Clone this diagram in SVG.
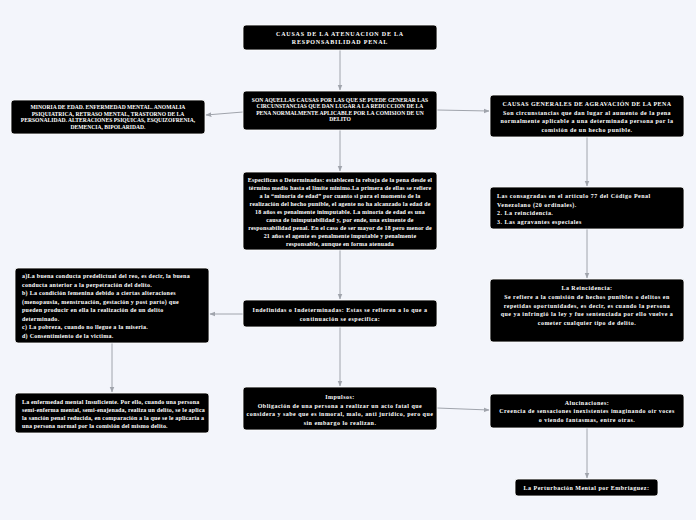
<svg xmlns="http://www.w3.org/2000/svg" width="696" height="520" viewBox="0 0 696 520">
<style>
.b{fill:#000;stroke:#fff;stroke-width:0.8}
text{font-family:"Liberation Serif","Times New Roman",serif;font-weight:bold;fill:#fff;font-size:6px;letter-spacing:0.48px}
.c{text-anchor:middle}
.u{font-size:5.6px;letter-spacing:0}
.t{font-size:6px;letter-spacing:0.8px}
.n{letter-spacing:0.16px}
.m{letter-spacing:0.27px}
.l{fill:none;stroke:#a0a4ac;stroke-width:1}
</style>
<defs>
<marker id="a" viewBox="0 0 10 10" refX="9" refY="5" markerWidth="6" markerHeight="6" orient="auto"><path d="M0,1 L10,5 L0,9 z" fill="#a0a4ac"/></marker>
</defs>
<rect width="696" height="520" fill="#f3f5fb"/>
<g id="connectors">
<path class="l" d="M340,50 V90" marker-end="url(#a)"/>
<path class="l" d="M243,112 L206,115" marker-end="url(#a)"/>
<path class="l" d="M437,110 L489,111" marker-end="url(#a)"/>
<path class="l" d="M340,130 V171" marker-end="url(#a)"/>
<path class="l" d="M587,137 V186" marker-end="url(#a)"/>
<path class="l" d="M587,229 V278" marker-end="url(#a)"/>
<path class="l" d="M340,250 V299" marker-end="url(#a)"/>
<path class="l" d="M243,314 L210,314" marker-end="url(#a)"/>
<path class="l" d="M112,343 V392" marker-end="url(#a)"/>
<path class="l" d="M340,327 V386" marker-end="url(#a)"/>
<path class="l" d="M437,408 L489,410" marker-end="url(#a)"/>
<path class="l" d="M587,428 V478" marker-end="url(#a)"/>
</g>
<g id="n1"><rect class="b" x="243" y="25" width="194" height="25" rx="3"/>
<text class="c t" x="340" y="35.5">CAUSAS DE LA ATENUACION DE LA</text>
<text class="c t" x="340" y="43.5">RESPONSABILIDAD PENAL</text></g>
<g id="n2"><rect class="b" x="243" y="91" width="194" height="39" rx="3"/>
<text class="c u" x="340" y="101.5">SON AQUELLAS CAUSAS POR LAS QUE SE PUEDE GENERAR LAS</text>
<text class="c u" x="340" y="108">CIRCUNSTANCIAS QUE DAN LUGAR A LA REDUCCION DE LA</text>
<text class="c u" x="340" y="114.5">PENA NORMALMENTE APLICABLE POR LA COMISION DE UN</text>
<text class="c u" x="340" y="121">DELITO</text></g>
<g id="n3"><rect class="b" x="11" y="100" width="194" height="34" rx="3"/>
<text class="c u" x="108" y="109">MINORIA DE EDAD. ENFERMEDAD MENTAL. ANOMALIA</text>
<text class="c u" x="108" y="115.5">PSIQUIATRICA, RETRASO MENTAL, TRASTORNO DE LA</text>
<text class="c u" x="108" y="122">PERSONALIDAD. ALTERACIONES PSIQUICAS, ESQUIZOFRENIA,</text>
<text class="c u" x="108" y="128.5">DEMENCIA, BIPOLARIDAD.</text></g>
<g id="n4"><rect class="b" x="490" y="95" width="194" height="42" rx="3"/>
<text class="c" x="587" y="105.5" style="letter-spacing:0.44px">CAUSAS GENERALES DE AGRAVACIÓN DE LA PENA</text>
<text class="c" x="587" y="114.5">Son circunstancias que dan lugar al aumento de la pena</text>
<text class="c" x="587" y="123">normalmente aplicable a una determinada persona por la</text>
<text class="c" x="587" y="132">comisión de un hecho punible.</text></g>
<g id="n5"><rect class="b" x="243" y="172" width="194" height="78" rx="3"/>
<text class="c n" x="340" y="182">Especificas o Determinadas: establecen la rebaja de la pena desde el</text>
<text class="c n" x="340" y="190">término medio hasta el limite minimo.La primera de ellas se refiere</text>
<text class="c n" x="340" y="198">a la “minoría de edad” por cuanto si para el momento de la</text>
<text class="c n" x="340" y="206">realización del hecho punible, el agente no ha alcanzado la edad de</text>
<text class="c n" x="340" y="214">18 años es penalmente inimputable. La minoría de edad es una</text>
<text class="c n" x="340" y="222">causa de inimputabilidad y, por ende, una eximente de</text>
<text class="c n" x="340" y="230">responsabilidad penal. En el caso de ser mayor de 18 pero menor de</text>
<text class="c n" x="340" y="238">21 años el agente es penalmente imputable y penalmente</text>
<text class="c n" x="340" y="246">responsable, aunque en forma atenuada</text></g>
<g id="n6"><rect class="b" x="490" y="187" width="194" height="42" rx="3"/>
<text x="497" y="198">Las consagradas en el artículo 77 del Código Penal</text>
<text x="497" y="206.5">Venezolano (20 ordinales).</text>
<text x="497" y="215">2. La reincidencia.</text>
<text x="497" y="223.5">3. Las agravantes especiales</text></g>
<g id="n7"><rect class="b" x="490" y="279" width="194" height="63" rx="3"/>
<text class="c" x="587" y="290">La Reincidencia:</text>
<text class="c" x="587" y="299">Se refiere a la comisión de hechos punibles o delitos en</text>
<text class="c" x="587" y="307.5">repetidas oportunidades, es decir, es cuando la persona</text>
<text class="c" x="587" y="316">que ya infringió la ley y fue sentenciada por ello vuelve a</text>
<text class="c" x="587" y="324.5">cometer cualquier tipo de delito.</text></g>
<g id="n8"><rect class="b" x="15" y="268" width="194" height="75" rx="3"/>
<text class="m" x="22" y="278">a)La buena conducta predelictual del reo, es decir, la buena</text>
<text class="m" x="22" y="286.5">conducta anterior a la perpetración del delito.</text>
<text class="m" x="22" y="295">b) La condición femenina debido a ciertas alteraciones</text>
<text class="m" x="22" y="303.5">(menopausia, menstruación, gestación y post parto) que</text>
<text class="m" x="22" y="312">pueden producir en ella la realización de un delito</text>
<text class="m" x="22" y="320.5">determinado.</text>
<text class="m" x="22" y="329">c) La pobreza, cuando no llegue a la miseria.</text>
<text class="m" x="22" y="337.5">d) Consentimiento de la victima.</text></g>
<g id="n9"><rect class="b" x="243" y="300" width="194" height="27" rx="3"/>
<text class="c" x="340" y="312">Indefinidas o Indeterminadas: Estas se refieren a lo que a</text>
<text class="c" x="340" y="320.5">continuación se especifica:</text></g>
<g id="n10"><rect class="b" x="15" y="393" width="194" height="40" rx="3"/>
<text class="n" x="22" y="404">La enfermedad mental Insuficiente. Por ello, cuando una persona</text>
<text class="n" x="22" y="412">semi-enferma mental, semi-enajenada, realiza un delito, se le aplica</text>
<text class="n" x="22" y="420">la sanción penal reducida, en comparación a la que se le aplicaría a</text>
<text class="n" x="22" y="428">una persona normal por la comisión del mismo delito.</text></g>
<g id="n11"><rect class="b" x="243" y="387" width="194" height="43" rx="3"/>
<text class="c" x="340" y="399">Impulsos:</text>
<text class="c" x="340" y="407.5">Obligación de una persona a realizar un acto fatal que</text>
<text class="c" x="340" y="416">considera y sabe que es inmoral, malo, anti jurídico, pero que</text>
<text class="c" x="340" y="424.5">sin embargo lo realizan.</text></g>
<g id="n12"><rect class="b" x="490" y="394" width="194" height="34" rx="3"/>
<text class="c" x="587" y="405">Alucinaciones:</text>
<text class="c" x="587" y="413">Creencia de sensaciones inexistentes imaginando oír voces</text>
<text class="c" x="587" y="421.5">o viendo fantasmas, entre otras.</text></g>
<g id="n13"><rect class="b" x="515" y="479" width="143" height="17" rx="3"/>
<text class="c" x="586.5" y="490">La Perturbación Mental por Embriaguez:</text></g>
</svg>
